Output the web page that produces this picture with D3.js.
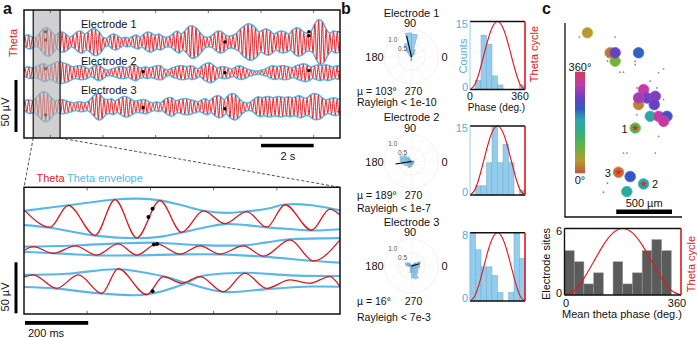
<!DOCTYPE html>
<html><head><meta charset="utf-8">
<script src="https://cdn.jsdelivr.net/npm/d3@7"></script>
<style>
body{margin:0;background:#fff}
svg{display:block}
text{font-family:"Liberation Sans",Arial,sans-serif;font-size:11px}
</style></head>
<body><svg id="chart" width="697" height="338"></svg>
<script>
// ================= DATA =================
// Panel a, top: 12 s of theta per electrode, amplitude (µV) of each successive theta cycle
const topDuration = 12; // s
const env1Top = [5,6,4, 4,8,12,13,10,6,8, 9,7,4, 6,9,10,7, 9,12,12,9,4, 3, 6,7,5, 3,4,3, 5,6,4, 7,9,8, 6,7,5, 4,5, 8,10,7, 10,14,15,13,9, 5,4,5, 8,10,9,6, 5,6,8, 12,15,17,16,13,9, 11,12,10,7, 9,10,9,7, 11,13,12,9, 8,10, 17,21,19,12, 8,10,9];
const env2Top = [4,5,4, 5,7,8,6,7,9,10, 9,8,6,5, 6,6,5,3, 5,7,6,3, 2,3,4, 5,5,4, 6,7,5, 4,5,4, 5,6,6,3, 2,4,5, 6,6,5,6,5,3, 6,8,9,7, 4,5,5,4,3, 5,6,5,3, 2,1,1,2,3, 5,6,5,6,6,5,4,6, 7,8,7,5, 6,7,6,7,6,5,6];
const env3Top = [5,6,5, 8,12,14,12,8,5,6, 6,5,4,3, 4,4,3,5, 9,12,11,7, 6,7,5, 7,9,9,7,5, 5,6,6,4, 3,4,3, 6,8,8,5, 6,7,7,6,5,4, 6,7,5, 8,10,9,6, 10,12,11,7, 4,3,4, 7,9,8,9,9,8,9,9,8,9,8, 9,10,8, 8,11,12,11,8,6, 7,8,7];
const topOffsets = [0, -29.5, -62.2]; // µV vertical offset of each trace
const spikeT1 = [0.82, 0.82, 7.63, 10.82, 10.82], spikeV1 = [10, 2, 0, 10, 6];
const spikeT2 = [0.82, 4.52, 7.63, 10.82],        spikeV2 = [4, 1, 0, 2];
const spikeT3 = [0.82, 4.52, 7.63],               spikeV3 = [-8, -1, -2];
const zoomWindow = [0.35, 1.37]; // s
const topTimeTicks = [1, 3, 5, 7, 9, 11];
const electrodeNames = ["Electrode 1", "Electrode 2", "Electrode 3"];

// Panel a, bottom: 1000 ms zoom; extrema of the theta trace (ms, µV)
const botOffsets = [0, -30.4, -62.7];
const e1T = [3, 82, 140, 225, 288, 357, 430, 499, 568, 636, 705, 768, 826, 910, 968, 1000];
const e1V = [7, -9, 12.3, -17, 18, -19.5, 17, -14, 7, -5.5, 6.3, -9, 13, -12, 8.7, 3];
const e1UpT = [0, 140, 288, 360, 430, 499, 568, 636, 705, 768, 826, 910, 1000];
const e1UpV = [7, 12.5, 18.2, 19, 17.3, 12.5, 7.2, 5, 6.5, 9, 13.2, 12.5, 7.5];
const e1LoT = [0, 82, 225, 357, 430, 499, 568, 636, 705, 768, 850, 910, 1000];
const e1LoV = [-7, -9.5, -17.3, -19.8, -18.5, -14.3, -9.5, -6, -7, -9.2, -11, -12.2, -11];
const e2T = [3, 29, 93, 162, 230, 298, 357, 420, 494, 557, 620, 694, 758, 842, 916, 1000];
const e2V = [-1, 2.3, -4.3, 3, -6, 5, -6, 5, -5, 3, -5, 3, -7, 9, -11.7, 9];
const e2UpT = [0, 162, 298, 420, 557, 694, 768, 842, 1000];
const e2UpV = [2.3, 3.5, 5.5, 6.2, 3.8, 3.6, 6.5, 9.5, 10.7];
const e2LoT = [0, 135, 230, 357, 494, 620, 758, 916, 1000];
const e2LoV = [-2.7, -4.8, -6.2, -6.2, -5.3, -5.3, -7.5, -11.8, -13.3];
const e3T = [0, 29, 103, 172, 246, 298, 388, 441, 499, 557, 631, 699, 768, 842, 905, 968, 1000];
const e3V = [5, 7, -6.3, 7, -11.3, 13, -12.3, 5.3, -1.3, 5.3, -9.7, 8.7, -6.3, 2, -1.3, 5.3, -4.7];
const e3UpT = [0, 135, 298, 441, 515, 631, 768, 905, 1000];
const e3UpV = [7, 8, 12.5, 5.5, -1, -9.7, -7, -4.5, -4.7];
const e3LoT = [0, 103, 246, 388, 515, 557, 699, 842, 968, 1000];
const e3LoV = [-5, -6.5, -11.3, -12.3, -1, 5.3, 9, 6.5, 5.8, 5.8];
const botSpikeT = [[394, 407], [411, 421], [407]];
const botSpikeV = [[1, 9], [4.5, 5], [-9]];
const botTimeTicks = [200, 400, 600, 800];

// Panel b: rose radii (24 bins of 15°, normalised), mean phases, Rayleigh
const rose1 = [0,0,0,0.2,0.3,0.85,0.9,0.55,0.35,0.1,0,0,0.05,0,0,0,0,0.15,0.1,0,0,0,0,0];
const rose2 = [0.1,0.05,0,0,0,0,0,0.05,0.2,0.35,0.45,0.42,0.38,0.3,0.25,0.22,0.25,0.2,0.15,0.12,0.1,0.1,0.08,0.1];
const rose3 = [0.3,0.35,0.2,0.1,0,0,0,0,0.15,0.2,0.25,0.2,0.1,0,0,0,0.1,0.25,0.45,0.5,0.35,0.3,0.25,0.3];
const meanPhase = [103, 189, 16];
const meanLength = [0.8, 0.6, 0.3];
const rayleigh = ["1e-10", "1e-7", "7e-3"];
// Phase histograms (10 bins of 36°)
const hist1 = [0,2,12,10,3,1,0,0,0,1];
const hist2 = [0,2,2,7,15,7,11,7,0,1];
const hist3 = [8,6,4,4,3,1,0,1,8,5];
const histMax = [15, 15, 8];
// Theta cycle reference (phase deg, normalised value)
const cyclePhase = [0,30,60,90,120,150,180,210,240,270,300,330,360];
const cycleValue = [0,0.067,0.25,0.5,0.75,0.933,1,0.933,0.75,0.5,0.25,0.067,0];

// Panel c: electrode sites (µm) and mean theta phase (deg)
const siteX = [201, 405, 450, 450, 660, 660, 705, 735, 810, 801, 660, 765, 840, 915, 885, 630, 480, 585, 705, 555];
const siteY = [1653, 1473, 1398, 1473, 1473, 1008, 1143, 1068, 1083, 1008, 1068, 903, 903, 903, 858, 798, 402, 363, 297, 228];
const sitePhase = [45, 25, 80, 265, 225, 30, 315, 275, 280, 265, 300, 180, 315, 240, 320, 103, 16, 230, 189, 175];
const markedSites = [15, 18, 16]; // indices of electrodes 1, 2, 3
const markedLabels = ["1", "2", "3"];
const otherSiteX = [129, 450, 381, 495, 525, 630, 630, 840, 885, 765, 825, 885, 840, 525, 555, 810, 645, 645, 381, 345, 615];
const otherSiteY = [1614, 1614, 1398, 1299, 1299, 1398, 1368, 1293, 1329, 1218, 1158, 1053, 723, 573, 573, 573, 918, 1158, 303, 222, 378];
const phaseStops = [0, 45, 90, 150, 190, 230, 270, 315, 360];
const phaseColors = ["#c4553e", "#b39a36", "#66b43e", "#2fae86", "#2ea5ae", "#3557c3", "#6c40c0", "#c03ca6", "#d23a55"];
const siteCounts = [4,3,1,2,0,3,1,2,4,5,4,0]; // 12 bins of 30°

// ================= DRAWING =================
const svg = d3.select("#chart");
const RED = "#e5161d", BLUE = "#5ab6e6", LBLUE = "#93ccec";
const defs = svg.append("defs");
function txt(x, y, s, o = {}) {
  const t = svg.append("text").attr("x", x).attr("y", y).text(s)
    .attr("text-anchor", o.anchor || "start").attr("fill", o.fill || "#111");
  if (o.size) t.style("font-size", o.size + "px");
  if (o.bold) t.attr("font-weight", "bold");
  return t;
}
function rtxt(x, y, s, o = {}) {
  const t = svg.append("text").attr("transform", `translate(${x},${y}) rotate(-90)`).text(s)
    .attr("text-anchor", "middle").attr("fill", o.fill || "#111");
  if (o.size) t.style("font-size", o.size + "px");
  return t;
}

// ---------- Panel a top ----------
const xTop = d3.scaleLinear().domain([0, topDuration]).range([24, 340]);
const yTop = d3.scaleLinear().domain([-92.3, 30.8]).range([138, 10]);
defs.append("clipPath").attr("id", "clipTop").append("rect")
  .attr("x", xTop(0)).attr("y", yTop.range()[1]).attr("width", xTop(topDuration) - xTop(0)).attr("height", yTop.range()[0] - yTop.range()[1]);
const gTop = svg.append("g").attr("clip-path", "url(#clipTop)");
const lineTop = d3.line().x(d => xTop(d[0])).y(d => yTop(d[1])).curve(d3.curveMonotoneX);
const envTop = d3.line().x(d => xTop(d[0])).y(d => yTop(d[1])).curve(d3.curveCatmullRom.alpha(0.5));
[env1Top, env2Top, env3Top].forEach((amps, i) => {
  const T = topDuration / amps.length, off = topOffsets[i];
  const up = [[0, off + amps[0] * 0.6]].concat(amps.map((a, k) => [(k + 0.25) * T, off + a + 0.6]), [[topDuration, off + amps[amps.length - 1]]]);
  const lo = [[0, off - amps[0] * 0.6]].concat(amps.map((a, k) => [(k + 0.75) * T, off - a - 0.6]), [[topDuration, off - amps[amps.length - 1]]]);
  gTop.append("path").attr("d", envTop(up)).attr("fill", "none").attr("stroke", BLUE).attr("stroke-width", 1.6);
  gTop.append("path").attr("d", envTop(lo)).attr("fill", "none").attr("stroke", BLUE).attr("stroke-width", 1.6);
  const osc = [[0, off]];
  amps.forEach((a, k) => { osc.push([(k + 0.25) * T, off + a]); osc.push([(k + 0.75) * T, off - a]); });
  osc.push([topDuration, off]);
  gTop.append("path").attr("d", lineTop(osc)).attr("fill", "none").attr("stroke", RED).attr("stroke-width", 0.95);
});
[[spikeT1, spikeV1], [spikeT2, spikeV2], [spikeT3, spikeV3]].forEach(([ts, vs], i) => {
  gTop.selectAll(null).data(ts).enter().append("circle")
    .attr("cx", d => xTop(d)).attr("cy", (d, j) => yTop(topOffsets[i] + vs[j])).attr("r", 1.7).attr("fill", "#000");
});
// zoom window
gTop.append("rect").attr("x", xTop(zoomWindow[0])).attr("y", 10).attr("width", xTop(zoomWindow[1]) - xTop(zoomWindow[0])).attr("height", 128)
  .attr("fill", "#b3b3b3").attr("opacity", 0.62);
zoomWindow.forEach(t => svg.append("line").attr("x1", xTop(t)).attr("x2", xTop(t)).attr("y1", 10).attr("y2", 138).attr("stroke", "#111").attr("stroke-width", 1.2));
svg.append("rect").attr("x", 24).attr("y", 10).attr("width", 316).attr("height", 128).attr("fill", "none").attr("stroke", "#111").attr("stroke-width", 1.5);
topTimeTicks.forEach(t => {
  svg.append("line").attr("x1", xTop(t)).attr("x2", xTop(t)).attr("y1", 10).attr("y2", 13).attr("stroke", "#333").attr("stroke-width", 0.7);
  svg.append("line").attr("x1", xTop(t)).attr("x2", xTop(t)).attr("y1", 135).attr("y2", 138).attr("stroke", "#333").attr("stroke-width", 0.7);
});
[10, -28.5, -67].forEach(v => svg.append("line").attr("x1", 337).attr("x2", 340).attr("y1", yTop(v)).attr("y2", yTop(v)).attr("stroke", "#333").attr("stroke-width", 0.7));
electrodeNames.forEach((n, i) => txt(81, [28, 65, 94][i], n));
rtxt(17, 43, "Theta", { fill: RED });
svg.append("rect").attr("x", 14.5).attr("width", 3).attr("y", yTop(-36.5)).attr("height", yTop(-86.5) - yTop(-36.5)).attr("fill", "#000");
rtxt(8.5, 112, "50 µV");
svg.append("rect").attr("x", xTop(9)).attr("width", xTop(11) - xTop(9)).attr("y", 143.8).attr("height", 3.5).attr("fill", "#000");
txt((xTop(9) + xTop(11)) / 2 + 0.5, 159.5, "2 s", { anchor: "middle" });
txt(3, 14, "a", { bold: true, size: 16 });

// ---------- Panel a bottom ----------
const xBot = d3.scaleLinear().domain([0, 1000]).range([24, 340]);
const yBot = d3.scaleLinear().domain([-94.1, 30.1]).range([314, 187.3]);
defs.append("clipPath").attr("id", "clipBot").append("rect").attr("x", 24).attr("y", 187.3).attr("width", 316).attr("height", 126.7);
svg.append("line").attr("x1", xTop(zoomWindow[0])).attr("y1", 138).attr("x2", 24).attr("y2", 187.3).attr("stroke", "#222").attr("stroke-width", 0.8).attr("stroke-dasharray", "3,2");
svg.append("line").attr("x1", xTop(zoomWindow[1])).attr("y1", 138).attr("x2", 340).attr("y2", 187.3).attr("stroke", "#222").attr("stroke-width", 0.8).attr("stroke-dasharray", "3,2");
const gBot = svg.append("g").attr("clip-path", "url(#clipBot)");
const lineBot = off => d3.line().x(d => xBot(d[0])).y(d => yBot(off + d[1])).curve(d3.curveMonotoneX);
const envBot = off => d3.line().x(d => xBot(d[0])).y(d => yBot(off + d[1])).curve(d3.curveCatmullRom.alpha(0.5));
const zipP = (a, b) => a.map((v, i) => [v, b[i]]);
const botData = [
  [e1T, e1V, e1UpT, e1UpV, e1LoT, e1LoV],
  [e2T, e2V, e2UpT, e2UpV, e2LoT, e2LoV],
  [e3T, e3V, e3UpT, e3UpV, e3LoT, e3LoV]];
botData.forEach((d, i) => {
  const off = botOffsets[i];
  gBot.append("path").attr("d", envBot(off)(zipP(d[2], d[3]))).attr("fill", "none").attr("stroke", BLUE).attr("stroke-width", 2.1);
  gBot.append("path").attr("d", envBot(off)(zipP(d[4], d[5]))).attr("fill", "none").attr("stroke", BLUE).attr("stroke-width", 2.1);
});
botData.forEach((d, i) => {
  gBot.append("path").attr("d", lineBot(botOffsets[i])(zipP(d[0], d[1]))).attr("fill", "none").attr("stroke", "#d9171e").attr("stroke-width", 1.3);
});
botSpikeT.forEach((ts, i) => {
  gBot.selectAll(null).data(ts).enter().append("circle").attr("cx", d => xBot(d)).attr("cy", (d, j) => yBot(botOffsets[i] + botSpikeV[i][j])).attr("r", 2).attr("fill", "#000");
});
svg.append("rect").attr("x", 24).attr("y", 187.3).attr("width", 316).attr("height", 126.7).attr("fill", "none").attr("stroke", "#111").attr("stroke-width", 1.5);
botTimeTicks.forEach(t => {
  svg.append("line").attr("x1", xBot(t)).attr("x2", xBot(t)).attr("y1", 187.3).attr("y2", 190.5).attr("stroke", "#333").attr("stroke-width", 0.7);
  svg.append("line").attr("x1", xBot(t)).attr("x2", xBot(t)).attr("y1", 310.8).attr("y2", 314).attr("stroke", "#333").attr("stroke-width", 0.7);
});
txt(36.5, 181.5, "Theta", { fill: "#e2231a" });
txt(67, 181.5, "Theta envelope", { fill: BLUE });
svg.append("rect").attr("x", 14.5).attr("width", 3).attr("y", yBot(-43.4)).attr("height", yBot(-93.4) - yBot(-43.4)).attr("fill", "#000");
rtxt(8.5, 297, "50 µV");
svg.append("rect").attr("x", xBot(0) + 1).attr("width", xBot(200) - xBot(0)).attr("y", 321).attr("height", 3.8).attr("fill", "#000");
txt(28, 336.5, "200 ms");

// ---------- Panel b ----------
txt(341, 14, "b", { bold: true, size: 16 });
const rP = d3.scaleLinear().domain([0, 1]).range([0, 27]);
const binDeg = 360 / rose1.length;
const arc = d3.arc().innerRadius(0);
const polarLayout = [
  { cx: 411.5, cy: 57, mu: 94.5, ray: 105.5 },
  { cx: 411.5, cy: 161.5, mu: 199, ray: 211.5 },
  { cx: 411.5, cy: 266, mu: 304.5, ray: 320.5 }];
const toRad = d => d * Math.PI / 180;
[rose1, rose2, rose3].forEach((rose, i) => {
  const L = polarLayout[i], g = svg.append("g").attr("transform", `translate(${L.cx},${L.cy})`);
  [0.5, 1].forEach(r => g.append("circle").attr("r", rP(r)).attr("fill", "none").attr("stroke", "#e8e8e8").attr("stroke-width", 0.6));
  d3.range(0, 360, 30).forEach(a => g.append("line").attr("x2", rP(1) * Math.cos(toRad(a))).attr("y2", -rP(1) * Math.sin(toRad(a))).attr("stroke", "#efefef").attr("stroke-width", 0.5));
  g.selectAll(null).data(rose).enter().append("path")
    .attr("d", (v, k) => arc.outerRadius(rP(v))({ startAngle: toRad(90 - (k + 1) * binDeg), endAngle: toRad(90 - k * binDeg) }))
    .attr("fill", LBLUE).attr("stroke", "#5e8fb0").attr("stroke-width", 0.4);
  g.append("line").attr("x2", rP(meanLength[i]) * Math.cos(toRad(meanPhase[i]))).attr("y2", -rP(meanLength[i]) * Math.sin(toRad(meanPhase[i])))
    .attr("stroke", "#000").attr("stroke-width", 1.1);
  g.append("text").attr("x", rP(1) * Math.cos(toRad(137)) + 1).attr("y", -rP(1) * Math.sin(toRad(137)) + 3).text("1.0").attr("text-anchor", "middle").style("font-size", "6.5px").attr("fill", "#555");
  g.append("text").attr("x", rP(0.5) * Math.cos(toRad(137)) + 1).attr("y", -rP(0.5) * Math.sin(toRad(137)) + 3).text("0.5").attr("text-anchor", "middle").style("font-size", "6.5px").attr("fill", "#555");
  txt(L.cx, L.cy - 40.5, electrodeNames[i], { anchor: "middle" });
  txt(L.cx - 1.5, L.cy - 30, "90", { anchor: "middle" });
  txt(L.cx - 37, L.cy + 4, "180", { anchor: "middle" });
  txt(L.cx + 33, L.cy + 4, "0", { anchor: "middle" });
  txt(357, L.mu, `µ = ${meanPhase[i]}°`, { size: 10.5 });
  txt(L.cx + 2, L.mu, "270", { anchor: "middle", size: 10.5 });
  txt(357, L.ray, `Rayleigh < ${rayleigh[i]}`, { size: 10.5 });
});
const histLayout = [[470, 525, 21.5, 89.5], [470, 525, 126, 195], [470, 525, 232.7, 301]];
function drawHist(counts, ymax, box, nbin, fill, stroke, leftColor) {
  const [x0, x1, y0, y1] = box;
  const xs = d3.scaleLinear().domain([0, 360]).range([x0, x1]);
  const ys = d3.scaleLinear().domain([0, ymax]).range([y1, y0]);
  const bw = 360 / nbin;
  svg.selectAll(null).data(counts).enter().append("rect")
    .attr("x", (c, k) => xs(k * bw)).attr("width", xs(bw) - xs(0)).attr("y", c => ys(c)).attr("height", c => ys(0) - ys(c))
    .attr("fill", fill).attr("stroke", stroke).attr("stroke-width", 0.5);
  svg.append("path").attr("d", d3.line().x((p, k) => xs(p)).y((p, k) => ys(cycleValue[k] * ymax)).curve(d3.curveNatural)(cyclePhase))
    .attr("fill", "none").attr("stroke", RED).attr("stroke-width", 1.1);
  svg.append("line").attr("x1", x0).attr("x2", x1).attr("y1", y0).attr("y2", y0).attr("stroke", "#111").attr("stroke-width", 1.6);
  svg.append("line").attr("x1", x0).attr("x2", x1).attr("y1", y1).attr("y2", y1).attr("stroke", "#111").attr("stroke-width", 1.6);
  svg.append("line").attr("x1", x0).attr("x2", x0).attr("y1", y0).attr("y2", y1).attr("stroke", leftColor).attr("stroke-width", leftColor === "#111" ? 1.4 : 0.9);
  svg.append("line").attr("x1", x1).attr("x2", x1).attr("y1", y0).attr("y2", y1).attr("stroke", RED).attr("stroke-width", 1.6);
  return { xs, ys };
}
[hist1, hist2, hist3].forEach((h, i) => {
  const box = histLayout[i];
  const { ys } = drawHist(h, histMax[i], box, h.length, "#92cdee", "#78a6c2", "#8cc8ec");
  txt(box[0] - 2, ys(histMax[i]) + 6, String(histMax[i]), { anchor: "end", fill: "#4fb0e3" });
  txt(box[0] - 2, ys(0) + 1, "0", { anchor: "end", fill: "#4fb0e3" });
});
rtxt(467, 56, "Counts", { fill: "#4fb0e3" });
rtxt(537.5, 54, "Theta cycle", { fill: RED });
txt(470, 99.5, "0", { anchor: "middle", size: 10.5 });
txt(520, 99.5, "360", { anchor: "middle", size: 10.5 });
txt(496.5, 111, "Phase (deg.)", { anchor: "middle", size: 10 });

// ---------- Panel c ----------
txt(542, 14, "c", { bold: true, size: 16 });
const xMap = d3.scaleLinear().domain([0, 1050]).range([565, 682]);
const yMap = d3.scaleLinear().domain([0, 1740]).range([217, 23]);
const phaseColor = d3.scaleLinear().domain(phaseStops).range(phaseColors).interpolate(d3.interpolateRgb);
svg.append("line").attr("x1", 565).attr("x2", 565).attr("y1", 23).attr("y2", 217).attr("stroke", "#111").attr("stroke-width", 1.3);
svg.append("line").attr("x1", 564.4).attr("x2", 682).attr("y1", 217).attr("y2", 217).attr("stroke", "#111").attr("stroke-width", 1.3);
// colorbar
const grad = defs.append("linearGradient").attr("id", "cbar").attr("x1", 0).attr("x2", 0).attr("y1", 1).attr("y2", 0);
phaseStops.forEach((p, i) => grad.append("stop").attr("offset", p / 360).attr("stop-color", phaseColors[i]));
svg.append("rect").attr("x", 575).attr("y", 71.7).attr("width", 10).attr("height", 101.6).attr("fill", "url(#cbar)");
txt(580, 70.5, "360°", { anchor: "middle" });
txt(580, 184, "0°", { anchor: "middle" });
svg.selectAll(null).data(otherSiteX).enter().append("circle").attr("cx", d => xMap(d)).attr("cy", (d, i) => yMap(otherSiteY[i])).attr("r", 0.9).attr("fill", "#8a8a8a");
svg.selectAll(null).data(siteX).enter().append("circle").attr("cx", d => xMap(d)).attr("cy", (d, i) => yMap(siteY[i])).attr("r", 5.3)
  .attr("fill", (d, i) => phaseColor(sitePhase[i])).attr("stroke", (d, i) => d3.color(phaseColor(sitePhase[i])).brighter(0.4)).attr("stroke-width", 0.8);
svg.selectAll(null).data(markedSites).enter().append("path")
  .attr("transform", d => `translate(${xMap(siteX[d])},${yMap(siteY[d])})`).attr("d", d3.symbol(d3.symbolStar, 16)()).attr("fill", "#ff1a1a");
markedSites.forEach((s, i) => {
  const x = xMap(siteX[s]), y = yMap(siteY[s]);
  if (i === 1) txt(x + 8.5, y + 4.5, markedLabels[i]);
  else txt(x - 7.5, y + 4.5, markedLabels[i], { anchor: "end" });
});
svg.append("rect").attr("x", xMap(460)).attr("width", xMap(960) - xMap(460)).attr("y", 209.5).attr("height", 4.5).attr("fill", "#000");
txt((xMap(460) + xMap(960)) / 2, 206.5, "500 µm", { anchor: "middle" });
// bottom histogram
const cBox = [564.5, 681, 228.5, 295];
drawHist(siteCounts, 6, cBox, siteCounts.length, "#5b5b5b", "#9a9a9a", "#111");
txt(cBox[0] - 2.5, cBox[2] + 6, "6", { anchor: "end" });
txt(cBox[0] - 2.5, cBox[3] + 2, "0", { anchor: "end" });
rtxt(550, 264, "Electrode sites");
rtxt(694.5, 264, "Theta cycle", { fill: RED });
txt(566, 306.5, "0", { anchor: "middle" });
txt(677, 306.5, "360", { anchor: "middle" });
txt(622, 317.5, "Mean theta phase (deg.)", { anchor: "middle" });
</script></body></html>
